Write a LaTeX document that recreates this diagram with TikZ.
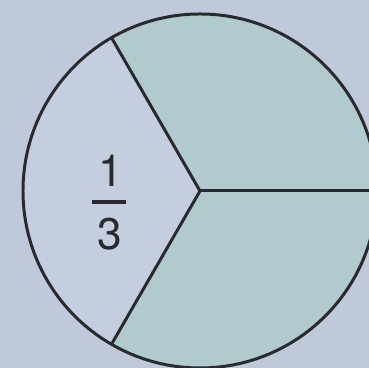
\documentclass[tikz,border=0pt]{standalone}
\usepackage{fontspec}
\setmainfont{TeX Gyre Heros}
\usepackage{tikz}
\usepackage{xcolor}
\usetikzlibrary{positioning,calc}
\definecolor{PaperBlue}{HTML}{C0C9DA}
\definecolor{PlainPart}{HTML}{C5CEDE}
\definecolor{ShadePart}{HTML}{B0CACE}
\definecolor{InkGray}{HTML}{2A2A2E}
\tikzset{
    % Outline of the circle and spokes
    outline/.style={
        draw=InkGray,
        line width=0.85pt
    },
    % Shaded two thirds
    shaded/.style={
        fill=ShadePart
    },
    % Unshaded third
    plain/.style={
        fill=PlainPart
    },
    % Digits of the fraction
    digit/.style={
        inner sep=0pt,
        text=InkGray,
        font=\fontsize{12.6}{14}\selectfont
    },
    % Fraction bar
    fracbar/.style={
        fill=InkGray,
        inner sep=0pt,
        minimum width=3.4mm,
        minimum height=0.32mm
    }
}
\begin{document}
\begin{tikzpicture}[x=1mm, y=1mm]
        % Background and margins
        \fill[PaperBlue] (-20,-17.7) rectangle (16.9,19.1);
        \useasboundingbox (-20,-17.7) rectangle (16.9,19.1);

        % Centre and spoke ends
        \coordinate (O) at (0,0);
        \coordinate (e0) at (0:17.7);
        \coordinate (e1) at (120:17.7);
        \coordinate (e2) at (240:17.7);

        % Sectors
        \fill[shaded] (O) -- (e1) arc (120:-120:17.7) -- cycle;
        \fill[plain] (O) -- (e1) arc (120:240:17.7) -- cycle;

        % Circle and spokes
        \draw[outline] (O) circle (17.7);
        \draw[outline] (O) -- (e0);
        \draw[outline] (O) -- (e1);
        \draw[outline] (O) -- (e2);

        % Label
        \node[fracbar] (bar) at (-9.1,-1.1) {};
        \node[digit] (num) at (-8.9,2.0) {1};
        \node[digit] (den) at (-9.0,-4.3) {3};
    \end{tikzpicture}
\end{document}
